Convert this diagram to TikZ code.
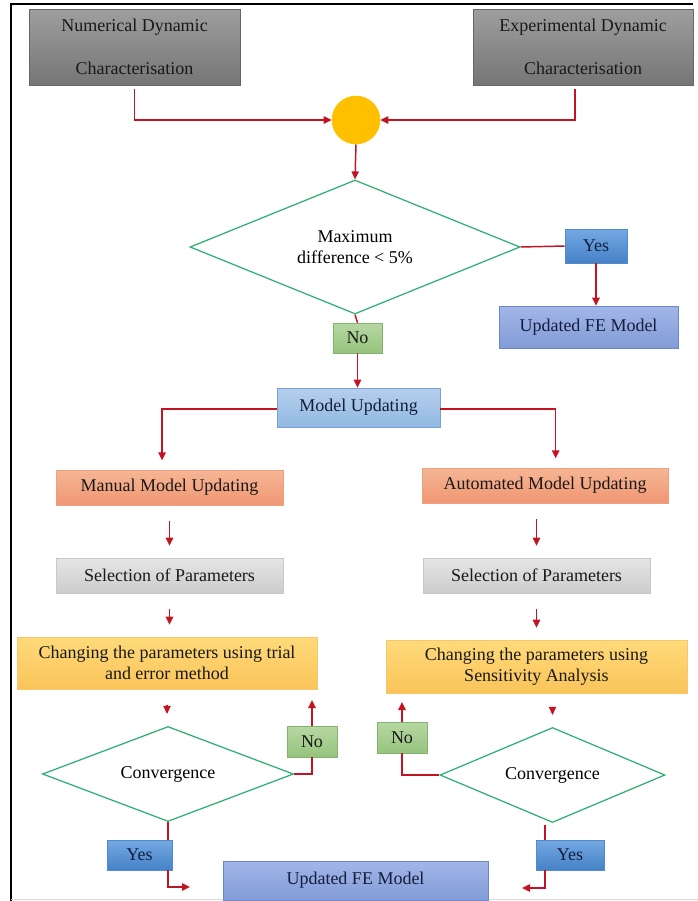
\documentclass[tikz,border=0pt]{standalone}
\usepackage{fontspec}
\setmainfont{Liberation Serif}
\usetikzlibrary{shapes.geometric,arrows.meta,positioning}

\definecolor{flowred}{RGB}{195,20,35}
\definecolor{dgreen}{RGB}{40,175,110}
\definecolor{navytext}{RGB}{20,30,60}
\tikzset{node distance=2.5cm, auto,
  every node/.style={font=\rmfamily\fontsize{13.5}{16}\selectfont, inner sep=0pt, align=center},
  sz/.style 2 args={minimum width=#1*0.75pt, minimum height=#2*0.75pt},
  greybox/.style={rectangle, draw=black!60, top color=black!38, bottom color=black!54, text=black!90},
  mergept/.style={circle, fill={rgb,255:red,255;green,192;blue,0}, draw={rgb,255:red,255;green,192;blue,0}, minimum size=36pt},
  decision/.style={diamond, aspect=2.5, draw=dgreen, line width=0.9pt, fill=white},
  yesbox/.style={rectangle, draw={rgb,255:red,80;green,140;blue,205}, top color={rgb,255:red,115;green,168;blue,226}, bottom color={rgb,255:red,70;green,130;blue,200}, text=navytext},
  nobox/.style={rectangle, draw={rgb,255:red,130;green,180;blue,110}, top color={rgb,255:red,182;green,216;blue,162}, bottom color={rgb,255:red,150;green,195;blue,125}, text=black!90},
  resultbox/.style={rectangle, draw={rgb,255:red,110;green,135;blue,200}, top color={rgb,255:red,162;green,182;blue,232}, bottom color={rgb,255:red,130;green,155;blue,215}, text=navytext},
  mainbox/.style={rectangle, draw={rgb,255:red,120;green,160;blue,210}, top color={rgb,255:red,182;green,207;blue,237}, bottom color={rgb,255:red,145;green,185;blue,225}, text=navytext},
  methodbox/.style={rectangle, draw={rgb,255:red,235;green,160;blue,130}, top color={rgb,255:red,246;green,182;blue,148}, bottom color={rgb,255:red,240;green,150;blue,115}, text=black!90},
  selbox/.style={rectangle, draw=black!22, top color=black!10, bottom color=black!20, text=black!90},
  changebox/.style={rectangle, draw={rgb,255:red,245;green,200;blue,110}, top color={rgb,255:red,255;green,218;blue,122}, bottom color={rgb,255:red,250;green,196;blue,90}, text=black!90},
  link/.style={draw=flowred, line width=1.1pt},
  arr/.style={link, -{Triangle[length=6pt,width=5.5pt]}},
  stub/.style={shorten <=12pt, shorten >=9pt}
}

\begin{document}
\begin{tikzpicture}[x=0.75pt, y=-0.75pt]
\useasboundingbox (0,0) rectangle (698,901);
% frame
\draw[line width=1.8pt] (11,901) -- (11,4) -- (693,4);
\draw[black!15, line width=0.8pt] (11,899.5) -- (698,899.5);

% inputs and comparison
\node[greybox, sz={211}{76}] (num) at (134.5,47) {Numerical Dynamic\\[16pt]Characterisation};
\node[greybox, sz={220}{76}] (exp) at (583,47) {Experimental Dynamic\\[16pt]Characterisation};
\node[mergept] (sum) at (356,120) {};
\node[decision, sz={330}{134}] (d1) at (355,247) {Maximum\\difference < 5\%};
\node[yesbox, sz={62}{34}] (yes1) at (596,246) {Yes};
\node[resultbox, sz={179}{42}] (upd1) at (588.5,327) {Updated FE Model};
\node[nobox, sz={49}{30}] (no1) at (357.5,338) {No};
\node[mainbox, sz={163}{39}] (mu) at (358.5,407.5) {Model Updating};

% manual branch
\node[methodbox, sz={227}{35}] (man) at (169.5,487.5) {Manual Model Updating};
\node[selbox, sz={227}{35}] (sel1) at (169.5,575.5) {Selection of Parameters};
\node[changebox, sz={300}{52}] (ch1) at (167,663) {Changing the parameters using trial\\and error method};
\node[decision, sz={251}{95}] (d2) at (168,774) {Convergence};
\node[nobox, sz={50}{31}] (no2) at (312,741.5) {No};
\node[yesbox, sz={65}{30}] (yes2) at (139.5,855) {Yes};

% automated branch
\node[methodbox, sz={246}{35}] (auto) at (545,485.5) {Automated Model Updating};
\node[selbox, sz={227}{35}] (sel2) at (536.5,575.5) {Selection of Parameters};
\node[changebox, sz={301}{53}] (ch2) at (536.5,666.5) {Changing the parameters using\\Sensitivity Analysis};
\node[decision, sz={225}{95}] (d3) at (552.5,775) {Convergence};
\node[nobox, sz={50}{31}] (no3) at (402,737.5) {No};
\node[yesbox, sz={68}{30}] (yes3) at (570,855) {Yes};

\node[resultbox, sz={265}{39}] (upd2) at (355.5,880.5) {Updated FE Model};

\coordinate (back1) at (312,700);
\coordinate (back2) at (402,702);
\coordinate (out1) at (190,887);
\coordinate (tap) at (545,825);
\coordinate (out2) at (522,888);

% connectors
\draw[arr] ([yshift=-3pt]num.south) |- (sum.west);
\draw[arr] ([xshift=-6pt,yshift=-3pt]exp.south) |- (sum.east);
\draw[arr] (sum.south) -- (d1.north);
\draw[link] (d1.east) -- (yes1.west);
\draw[arr] (yes1.south) -- (yes1.south |- upd1.north);
\draw[link] (d1.south) -- (no1.north);
\draw[arr] (no1.south) -- (no1.south |- mu.north);
\draw[arr, shorten >=7pt] ([yshift=-1.2pt]mu.west) -| ([xshift=-5.6pt]man.north);
\draw[arr, shorten >=7pt] ([yshift=-1.2pt]mu.east) -| ([xshift=8pt]auto.north);

\draw[arr, stub] (man.south) -- (man.south |- sel1.north);
\draw[arr, stub] (sel1.south) -- (sel1.south |- ch1.north);
\draw[arr, stub] (ch1.south) -- (ch1.south |- d2.north);
\draw[link] (d2.east) -| (no2.south);
\draw[arr] (no2.north) -- (back1);
\draw[link] (d2.south) -- (d2.south |- yes2.north);
\draw[arr] (d2.south |- yes2.south) |- (out1);

\draw[arr, stub] (sel2.north |- auto.south) -- (sel2.north);
\draw[arr, stub] (sel2.south) -- (sel2.south |- ch2.north);
\draw[arr, stub] (d3.north |- ch2.south) -- (d3.north);
\draw[link] (d3.west) -| (no3.south);
\draw[arr] (no3.north) -- (back2);
\draw[link] (tap) -- (tap |- yes3.north);
\draw[arr] (tap |- yes3.south) |- (out2);
\end{tikzpicture}
\end{document}
